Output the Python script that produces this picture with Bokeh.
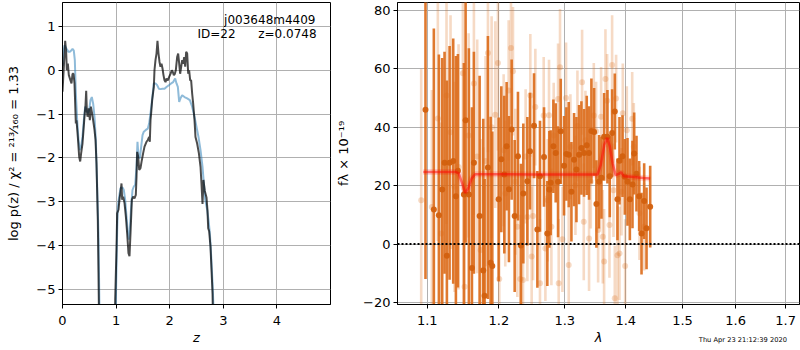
from bokeh.plotting import figure
from bokeh.layouts import row, column
from bokeh.models import Range1d, FixedTicker, Label, ColumnDataSource, PrintfTickFormatter, Div
from bokeh.embed import file_html
from bokeh.resources import INLINE

FONT = "DejaVu Sans"

# ---------------- left panel: log p(z) ----------------
z_dark = [0.000, 0.025, 0.050, 0.068, 0.081, 0.100, 0.118, 0.149, 0.168, 0.187,
          0.205, 0.224, 0.249, 0.261, 0.286, 0.311, 0.330, 0.348, 0.373, 0.392,
          0.410, 0.429, 0.442, 0.454, 0.466, 0.491, 0.510, 0.529, 0.547, 0.572,
          0.597, 0.616, 0.634, 0.659, 0.690, 0.970,
          0.983, 1.007, 1.020, 1.045, 1.063, 1.082, 1.101, 1.113, 1.132, 1.157,
          1.182, 1.206, 1.231, 1.250, 1.269, 1.294, 1.318, 1.343, 1.368, 1.381,
          1.393, 1.412, 1.431, 1.455, 1.480, 1.505, 1.530, 1.567, 1.592, 1.617,
          1.629, 1.642, 1.654, 1.673,
          1.692, 1.704, 1.716, 1.735, 1.754, 1.772, 1.791, 1.810, 1.828, 1.847,
          1.866, 1.884, 1.903, 1.922, 1.940, 1.965, 1.990, 2.015, 2.040, 2.058,
          2.077, 2.096, 2.114, 2.139, 2.158, 2.177, 2.195, 2.214, 2.233, 2.251,
          2.270, 2.289, 2.307, 2.326, 2.345, 2.363, 2.382, 2.400, 2.419, 2.438,
          2.463, 2.481, 2.512, 2.544, 2.575, 2.593,
          2.612, 2.630, 2.655, 2.687, 2.705, 2.718, 2.736, 2.761, 2.780, 2.799, 2.820]
lpz_dark = [-0.49, 0.08, 0.67, 0.42, 0.0, 0.15, -0.11, -0.23, -0.30, -0.08,
            -0.08, -0.30, -1.21, -1.14, -1.52, -1.97, -2.08, -1.89, -1.67, -1.36,
            -1.06, -0.80, -0.47, -0.91, -1.06, -0.87, -1.14, -0.83, -0.95, -1.14,
            -1.36, -1.59, -2.12, -3.41, -6.5, -6.5,
            -5.23, -4.09, -3.26, -3.18, -2.95, -2.77, -2.58, -2.95, -2.88, -3.03,
            -3.33, -3.71, -4.17, -4.24, -3.71, -2.95, -2.88, -2.92, -2.84, -2.42,
            -1.86, -1.97, -2.27, -2.23, -2.05, -1.89, -1.74, -1.63, -1.59, -1.52,
            -1.63, -1.14, -0.98, -0.68,
            -0.49, -0.38, 0.0, 0.23, 0.38, 0.67, 0.38, 0.19, 0.08, 0.15,
            0.04, -0.11, -0.23, -0.27, -0.19, -0.23, -0.15, -0.08, 0.0, -0.04,
            -0.11, -0.08, 0.0, 0.30, 0.38, 0.15, -0.08, 0.08, 0.23, 0.15,
            0.30, 0.08, 0.42, 0.38, -0.08, 0.0, -0.23, -0.23, -0.53, -0.76,
            -1.14, -1.52, -1.67, -1.89, -2.20, -2.58,
            -3.05, -2.50, -2.75, -2.90, -3.20, -3.60, -3.67, -4.02, -4.55, -5.08, -6.5]

z_blue = [0.000, 0.012, 0.037, 0.075, 0.112, 0.137, 0.162, 0.187, 0.211, 0.230,
          0.249, 0.274, 0.299, 0.323, 0.348, 0.373, 0.398, 0.423, 0.448, 0.473,
          0.498, 0.522, 0.547, 0.572, 0.597, 0.622, 0.647, 0.672, 0.700, 0.975,
          0.995, 1.020, 1.032, 1.057, 1.082, 1.119, 1.144, 1.169, 1.194, 1.219,
          1.237, 1.256, 1.281, 1.306, 1.331, 1.356, 1.381, 1.399, 1.418, 1.443,
          1.468, 1.493, 1.517, 1.555, 1.592, 1.617, 1.642, 1.667, 1.704, 1.735,
          1.766, 1.797, 1.828, 1.866, 1.903, 1.940, 1.984, 2.027, 2.065, 2.102,
          2.127, 2.152, 2.177, 2.201, 2.233, 2.276, 2.326, 2.376, 2.419, 2.463,
          2.500, 2.537, 2.575, 2.612, 2.637, 2.662, 2.699, 2.724, 2.749, 2.774,
          2.799, 2.823, 2.850]
lpz_blue = [0.10, 0.35, 0.57, 0.49, 0.42, 0.42, 0.45, 0.49, 0.45, 0.23,
            -0.53, -1.14, -1.59, -1.82, -1.74, -1.52, -1.14, -0.83, -0.91, -0.98,
            -0.91, -0.68, -0.61, -0.76, -1.06, -1.59, -2.65, -3.80, -6.5, -6.5,
            -5.30, -3.64, -3.11, -2.88, -2.69, -2.67, -2.73, -2.95, -3.33, -3.71,
            -3.86, -3.64, -3.11, -2.73, -2.65, -2.61, -2.20, -1.63, -1.97, -2.01,
            -1.74, -1.48, -1.40, -1.36, -1.33, -1.21, -0.98, -0.72, -0.30, -0.30,
            -0.34, -0.42, -0.43, -0.42, -0.42, -0.38, -0.34, -0.30, -0.27, -0.19,
            -0.30, -0.38, -0.72, -0.64, -0.57, -0.61, -0.64, -0.68, -0.83, -1.06,
            -1.29, -1.52, -1.82, -2.20, -2.58, -2.95, -3.18, -3.41, -3.71, -4.24,
            -4.85, -5.60, -6.5]

z_ticks = [0, 1, 2, 3, 4]
lpz_ticks = [-5, -4, -3, -2, -1, 0, 1]
lpz_tick_labels = ["\u22125", "\u22124", "\u22123", "\u22122", "\u22121", "0", "1"]

obj_name = "j003648m4409"
obj_id = "ID=22"
obj_z = "z=0.0748"

# ---------------- right panel: spectrum ----------------
lam_a = [1.0977, 1.1089, 1.1157, 1.1202, 1.1234, 1.1266, 1.1303, 1.1353, 1.1390, 1.1418,
         1.1501, 1.1525, 1.1571, 1.1614, 1.1642, 1.1723, 1.1775, 1.1794, 1.1842, 1.1881,
         1.1905, 1.1997, 1.2036, 1.2080, 1.2114, 1.2148, 1.2188, 1.2233, 1.2282, 1.2327,
         1.2362, 1.2423, 1.2463, 1.2524, 1.2575, 1.2615, 1.2677, 1.2728, 1.2759, 1.2780,
         1.2822, 1.2858, 1.2895, 1.2937, 1.2989, 1.3026, 1.3063, 1.3106, 1.3148, 1.3186,
         1.3228, 1.3266, 1.3309, 1.3352, 1.3390, 1.3428, 1.3472, 1.3510, 1.3554, 1.3593,
         1.3637, 1.3692, 1.3731, 1.3770, 1.3815, 1.3860, 1.3894, 1.3945, 1.3984, 1.4030,
         1.4070, 1.4115, 1.4144, 1.4184, 1.4230, 1.4271, 1.4317, 1.4358, 1.4422]
flux_a = [46.0, 11.8, 9.9, 18.7, 27.8, -4.0, 27.8, 28.4, 16.4, 25.1,
          17.0, 42.4, 17.0, -8.2, 27.8, 9.6, -9.1, -17.7, 26.2, -6.4,
          -7.5, 15.3, 29.0, 23.8, 33.5, 18.8, 39.2, 9.6, 30.1, -0.5,
          17.3, 21.5, 31.8, 40.5, 5.0, 23.2, 29.8, 3.6, 18.7, 21.0,
          33.5, 31.2, 21.3, 38.6, 26.8, 30.8, 30.6, 17.9, 28.9, 25.5,
          30.6, 32.9, 31.2, 33.8, 31.2, 38.7, 38.4, 13.7, 21.3, 22.7,
          36.7, 36.7, 23.2, 38.0, 45.4, 15.3, 28.5, 30.1, 23.0, 21.3,
          15.3, 20.4, 31.0, 24.1, 16.4, 3.6, 14.7, 5.4, 12.8]
err_a = [58, 62, 55, 45, 38, 60, 40, 42, 48, 40,
         45, 42, 50, 55, 38, 48, 52, 40, 45, 50,
         46, 28, 25, 27, 22, 25, 24, 26, 22, 28,
         24, 22, 20, 18, 20, 19, 17, 18, 20, 18,
         16, 17, 19, 18, 17, 16, 18, 17, 16, 18,
         17, 16, 15, 17, 16, 18, 15, 15, 16, 14,
         15, 16, 14, 15, 13, 14, 15, 14, 13, 15,
         14, 15, 14, 13, 12, 14, 13, 14, 14]

lam_b = [1.0920, 1.1062, 1.1143, 1.1188, 1.1261, 1.1316, 1.1371, 1.1427, 1.1487, 1.1511,
         1.1567, 1.1642, 1.1689, 1.1737, 1.1775, 1.1808, 1.1842, 1.1895, 1.1948, 1.1987,
         1.2006, 1.2070, 1.2094, 1.2144, 1.2178, 1.2208, 1.2243, 1.2272, 1.2317, 1.2357,
         1.2397, 1.2423, 1.2468, 1.2488, 1.2509, 1.2544,
         1.2615, 1.2672, 1.2698, 1.2734, 1.2754, 1.2791, 1.2827, 1.2895, 1.2905, 1.2926,
         1.2963, 1.3021, 1.3063, 1.3090, 1.3170, 1.3202, 1.3277, 1.3304, 1.3331, 1.3390,
         1.3418, 1.3467, 1.3505,
         1.3538, 1.3587, 1.3615, 1.3637, 1.3659, 1.3687, 1.3726, 1.3770, 1.3793, 1.3815,
         1.3837, 1.3860, 1.3894, 1.3928, 1.3950, 1.3990, 1.4018, 1.4110, 1.4138, 1.4236,
         1.4317]
flux_b = [15.0, 12.7, 43.0, 3.6, 50.9, 38.3, 19.6, 26.4, 58.5, -14.6,
          37.2, 55.0, 30.0, -2.0, -8.9, 28.4, 65.4, 40.0, 44.3, 62.0,
          -12.0, 32.1, 17.3, 52.6, 67.1, 59.2, 21.3, 5.9, -12.0, -12.3,
          30.0, 9.3, 50.9, -4.3, 9.6, 46.9,
          -13.4, 44.0, -1.5, 15.0, 44.1, 5.9, 37.2, 49.7, -13.4, 60.5,
          1.6, 50.0, -7.2, 33.3, 20.1, 40.4, 55.4, 7.6, 35.5, 1.9,
          21.3, 44.0, 38.6,
          4.8, 43.6, 2.5, -6.0, 56.5, 49.1, 6.5, 61.3, 18.4, -18.6,
          49.8, -3.8, -3.2, 17.9, 44.8, -7.5, 39.0, 42.9, 33.3, 10.5,
          5.9]
err_b = [45, 40, 42, 38, 44, 40, 36, 42, 40, 38,
         35, 45, 40, 38, 42, 36, 34, 38, 32, 30,
         28, 26, 25, 24, 26, 22, 25, 24, 22, 24,
         23, 22, 21, 24, 22, 20,
         22, 20, 18, 21, 19, 20, 18, 19, 22, 20,
         18, 19, 20, 18, 17, 19, 18, 20, 17, 18,
         16, 18, 17,
         18, 17, 16, 18, 17, 16, 18, 17, 16, 18,
         15, 17, 16, 15, 17, 16, 15, 16, 15, 16,
         15]

lam_model = [1.0947, 1.1385, 1.1430, 1.1480, 1.1520, 1.1560, 1.1610, 1.1660, 1.2000, 1.2500,
             1.3000, 1.3527, 1.3580, 1.3640, 1.3690, 1.3730, 1.3780, 1.3830, 1.3880,
             1.3920, 1.3970, 1.4100, 1.4300, 1.4422]
flux_model = [24.7, 24.7, 24.2, 20.5, 17.5, 19.0, 22.5, 23.9, 23.9, 23.8,
              23.8, 23.8, 27.0, 34.0, 36.3, 33.5, 27.5, 23.6, 24.0,
              24.6, 23.2, 23.0, 22.6, 22.4]

lam_ticks = [1.1, 1.2, 1.3, 1.4, 1.5, 1.6, 1.7]
flux_ticks = [-20, 0, 20, 40, 60, 80]
flux_tick_labels = ["\u221220", "0", "20", "40", "60", "80"]
timestamp = "Thu Apr 23 21:12:39 2020"


def style(p):
    p.outline_line_color = "black"
    p.outline_line_width = 1
    p.outline_line_alpha = 1
    p.background_fill_color = "white"
    p.border_fill_color = "white"
    for ax in p.axis:
        ax.axis_line_color = "black"
        ax.axis_line_width = 1
        ax.major_tick_line_color = "black"
        ax.major_tick_out = 4
        ax.major_tick_in = 0
        ax.minor_tick_line_color = None
        ax.major_label_text_font = FONT
        ax.major_label_text_font_size = "13px"
        ax.major_label_text_color = "black"
        ax.major_label_standoff = 3
        ax.axis_label_text_font = FONT
        ax.axis_label_text_font_size = "13px"
        ax.axis_label_text_color = "black"
        ax.axis_label_standoff = 9
    for ax in p.xaxis:
        ax.major_label_standoff = 7
        ax.axis_label_standoff = 2
    p.grid.grid_line_color = "#b0b0b0"
    p.grid.grid_line_width = 1


H = 349
p1 = figure(width=333, height=H, x_range=Range1d(0, 5.0), y_range=Range1d(-5.34, 1.545),
            output_backend="svg", toolbar_location=None,
            min_border_left=62, min_border_right=3, min_border_top=2, min_border_bottom=45)
style(p1)
p1.xaxis.ticker = FixedTicker(ticks=z_ticks)
p1.yaxis.ticker = FixedTicker(ticks=lpz_ticks)
p1.yaxis.major_label_overrides = dict(zip(lpz_ticks, lpz_tick_labels))
p1.xaxis.axis_label = "z"
p1.xaxis.axis_label_text_font_style = "italic"
p1.yaxis.axis_label = "log p(z) / \u03c7\u00b2 = \u00b2\u00b9\u00b3\u2044\u2081\u2086\u2080 = 1.33"
p1.yaxis.axis_label_text_font_style = "normal"
p1.yaxis.axis_label_standoff = 12

p1.line(z_blue, lpz_blue, line_color="#1f77b4", line_alpha=0.5, line_width=2)
p1.line(z_dark, lpz_dark, line_color="black", line_alpha=0.7, line_width=2)

for txt, xx, yy in [(obj_name, 4.72, 1.136), (obj_id, 3.23, 0.818), (obj_z, 4.74, 0.818)]:
    p1.add_layout(Label(x=xx, y=yy, text=txt, text_align="right", text_baseline="middle",
                        text_font=FONT, text_font_size="12px", text_color="black"))

# right
C = "#dc6a18"
p2 = figure(width=467, height=H, x_axis_type="log", x_range=Range1d(1.061, 1.729),
            y_range=Range1d(-20.7, 82.7), output_backend="svg", toolbar_location=None,
            min_border_left=64, min_border_right=1, min_border_top=2, min_border_bottom=45)
style(p2)
p2.xaxis.ticker = FixedTicker(ticks=lam_ticks)
p2.xaxis.formatter = PrintfTickFormatter(format="%.1f")
p2.yaxis.ticker = FixedTicker(ticks=flux_ticks)
p2.yaxis.major_label_overrides = dict(zip(flux_ticks, flux_tick_labels))
p2.xaxis.axis_label = "\u03bb"
p2.xaxis.axis_label_text_font_style = "italic"
p2.yaxis.axis_label = "f\u03bb \u00d7 10\u207b\u00b9\u2079"
p2.yaxis.axis_label_text_font_style = "normal"

src_b = ColumnDataSource(dict(lam=lam_b, flux=flux_b,
                              lo=[f - e for f, e in zip(flux_b, err_b)],
                              hi=[f + e for f, e in zip(flux_b, err_b)]))
src_a = ColumnDataSource(dict(lam=lam_a, flux=flux_a,
                              lo=[f - e for f, e in zip(flux_a, err_a)],
                              hi=[f + e for f, e in zip(flux_a, err_a)]))

p2.segment(x0="lam", y0="lo", x1="lam", y1="hi", source=src_b,
           line_color=C, line_alpha=0.25, line_width=2.6)
p2.scatter("lam", "flux", source=src_b, size=6, fill_color=C, fill_alpha=0.25, line_color=None)
p2.segment(x0="lam", y0="lo", x1="lam", y1="hi", source=src_a,
           line_color=C, line_alpha=0.9, line_width=2.6)
p2.scatter("lam", "flux", source=src_a, size=6, fill_color="#d2600e", fill_alpha=0.95, line_color=None)

p2.line(lam_model, flux_model, line_color="red", line_alpha=0.15, line_width=6)
p2.line(lam_model, flux_model, line_color="red", line_alpha=0.5, line_width=2.5)

p2.line([1.061, 1.729], [0, 0], line_color="black", line_width=2, line_dash="2 2")

ts_div = Div(
    text=('<div style="position:relative; top:-24px; width:782px; text-align:right; '
          'font-family:\'DejaVu Sans\'; font-size:6.7px; line-height:8px; color:black; '
          'white-space:nowrap;">' + timestamp + '</div>'),
    width=800, height=1, styles={"overflow": "visible"})

layout = column(row(p1, p2), ts_div)
open("out.html", "w").write(file_html(layout, INLINE))
